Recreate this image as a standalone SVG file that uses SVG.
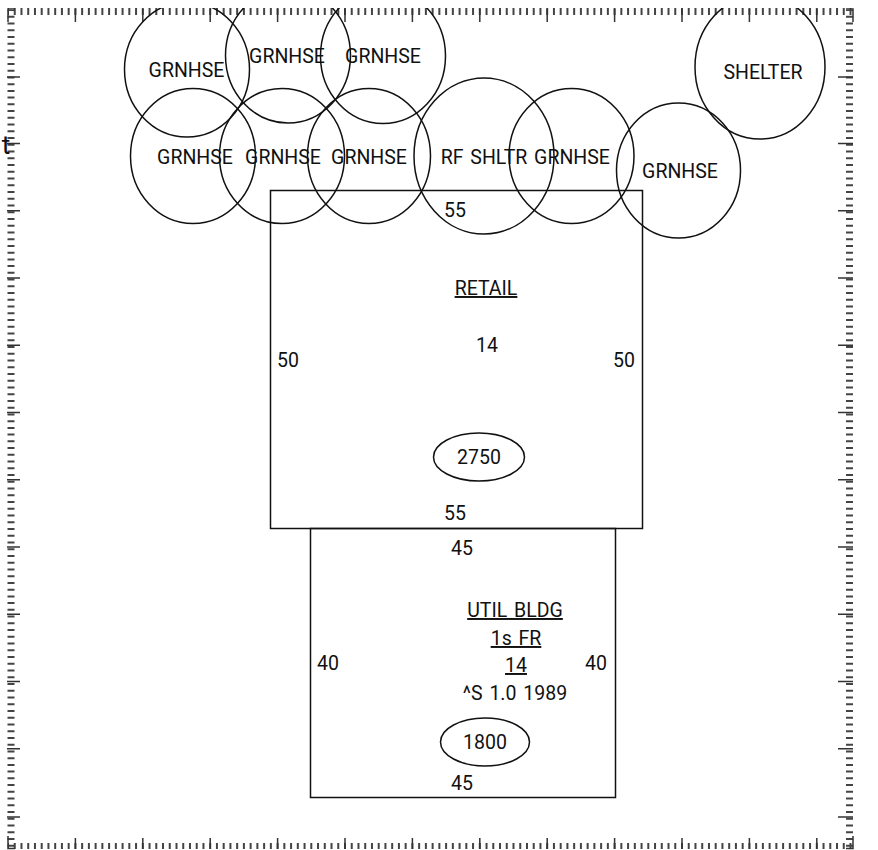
<svg xmlns="http://www.w3.org/2000/svg" width="878" height="850" viewBox="0 0 878 850">
<style>
.s{fill:none;stroke:#111;stroke-width:1.5}
.t{fill:none;stroke:#444;stroke-width:7;stroke-dasharray:2 4.74;stroke-dashoffset:1}
.m{fill:none;stroke:#333;stroke-width:1.5}
text{font-family:"Roboto","Liberation Sans",sans-serif;font-size:19.500px;word-spacing:2px;fill:#111;text-anchor:middle}
.u{text-decoration:underline}
</style>
<defs><clipPath id="c"><rect x="0" y="8" width="878" height="842"/></clipPath></defs>
<rect width="878" height="850" fill="#fff"/>
<g id="ruler">
<path class="t" d="M8 11.500H853"/>
<path class="t" d="M8 846H853" style="stroke-width:6"/>
<path class="t" d="M11 10V848"/>
<path class="t" d="M849.500 10V848"/>
<path class="m" d="M8 22V9H15M853 22V9H846M8 836V848.500H15M853 836V848.500H846"/>
<path class="m" d="M75.400 9V22M142.800 9V22M210.200 9V22M277.600 9V22M345 9V22M412.400 9V22M479.800 9V22M547.200 9V22M614.600 9V22M682 9V22M749.400 9V22M816.800 9V22"/>
<path class="m" d="M75.400 849V838M142.800 849V838M210.200 849V838M277.600 849V838M345 849V838M412.400 849V838M479.800 849V838M547.200 849V838M614.600 849V838M682 849V838M749.400 849V838M816.800 849V838"/>
<path class="m" d="M7 77H20M7 143.500H20M7 210.800H20M7 278H20M7 345.300H20M7 412.500H20M7 479.800H20M7 547H20M7 614.300H20M7 681.500H20M7 748.800H20M7 817H20"/>
<path class="m" d="M853 77H838M853 143.500H838M853 210.800H838M853 278H838M853 345.300H838M853 412.500H838M853 479.800H838M853 547H838M853 614.300H838M853 681.500H838M853 748.800H838M853 817H838"/>
<text x="6" y="154" style="font-size:26px">t</text>
</g>
<g id="retail"><rect class="s" x="270.500" y="190.500" width="372" height="338"/>
<text x="455" y="217">55</text><text class="u" x="486" y="295">RETAIL</text><text x="487" y="352">14</text><text x="288" y="367">50</text><text x="624" y="367">50</text><text x="455" y="520">55</text></g>
<g id="retail-area"><ellipse class="s" cx="479" cy="457" rx="45.500" ry="24"/><text x="479" y="464">2750</text></g>
<g id="util"><rect class="s" x="310.500" y="528.500" width="305" height="269"/>
<text x="462" y="555">45</text><text class="u" x="515" y="617">UTIL BLDG</text><text class="u" x="516" y="645">1s FR</text><text class="u" x="516" y="672">14</text><text x="515" y="700">^S 1.0 1989</text><text x="328" y="670">40</text><text x="596" y="670">40</text><text x="462" y="790">45</text></g>
<g id="util-area"><ellipse class="s" cx="485" cy="742" rx="44.500" ry="24"/><text x="485" y="749">1800</text></g>
<g clip-path="url(#c)">
<g id="g1"><ellipse class="s" cx="187" cy="69.500" rx="62.500" ry="67.500"/><text x="186.500" y="77">GRNHSE</text></g>
<g id="g2"><ellipse class="s" cx="288" cy="55.500" rx="62.500" ry="67.500"/><text x="287" y="63">GRNHSE</text></g>
<g id="g3"><ellipse class="s" cx="383" cy="56" rx="62.500" ry="67.500"/><text x="383" y="63">GRNHSE</text></g>
<g id="g4"><ellipse class="s" cx="193" cy="156" rx="62.500" ry="67.500"/><text x="195" y="164">GRNHSE</text></g>
<g id="g5"><ellipse class="s" cx="282" cy="156" rx="62.500" ry="67.500"/><text x="283" y="164">GRNHSE</text></g>
<g id="g6"><ellipse class="s" cx="369" cy="156" rx="61.500" ry="67.500"/><text x="369" y="164">GRNHSE</text></g>
<g id="g7"><ellipse class="s" cx="484" cy="156" rx="70" ry="78"/><text x="484" y="164">RF SHLTR</text></g>
<g id="g8"><ellipse class="s" cx="571.500" cy="156" rx="62.500" ry="67.500"/><text x="572" y="164">GRNHSE</text></g>
<g id="g9"><ellipse class="s" cx="678.500" cy="170.500" rx="62" ry="67.500"/><text x="680" y="178">GRNHSE</text></g>
<g id="shelter"><ellipse class="s" cx="760" cy="67" rx="65" ry="72"/><text x="763" y="79">SHELTER</text></g>
</g>
</svg>
